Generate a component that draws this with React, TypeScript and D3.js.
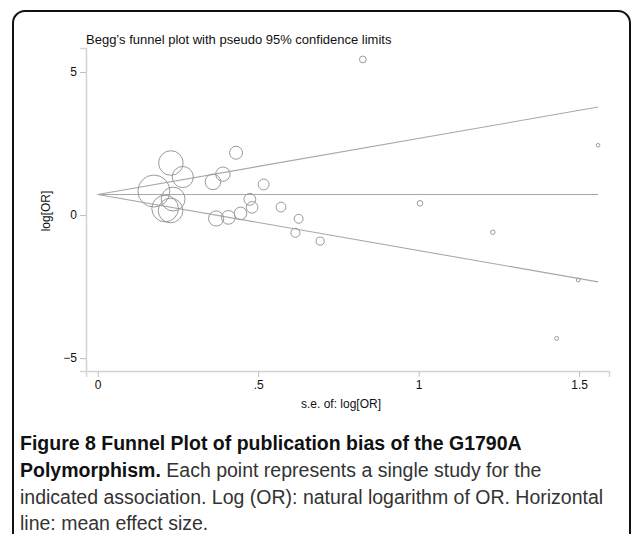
import { useEffect, useRef } from "react"
import * as d3 from "d3"

// standard error of log[OR] and log[OR] for each study
const seValues = [
  0.175, 0.228, 0.265, 0.235, 0.21, 0.227, 0.359, 0.39, 0.431, 0.517, 0.474, 0.481, 0.445,
  0.407, 0.369, 0.571, 0.626, 0.616, 0.693, 0.826, 1.004, 1.231, 1.497, 1.43, 1.559,
]
const logOrValues = [
  0.84, 1.82, 1.33, 0.56, 0.23, 0.16, 1.16, 1.43, 2.18, 1.07, 0.55, 0.27, 0.06, -0.08, -0.12,
  0.28, -0.13, -0.62, -0.91, 5.44, 0.41, -0.6, -2.27, -4.31, 2.44,
]
const pooledEstimate = 0.72
const zCrit = 1.96

const yTicks = [-5, 0, 5]
const xTicks = [0, 0.5, 1, 1.5]

const captionBold = ["Figure 8 Funnel Plot of publication bias of the G1790A", "Polymorphism."]
const captionLines = [
  " Each point represents a single study for the",
  "indicated association. Log (OR): natural logarithm of OR. Horizontal",
  "line: mean effect size.",
]

const FONT = "'Liberation Sans', Arial, sans-serif"

export default function App() {
  const svgRef = useRef(null)

  useEffect(() => {
    if (!svgRef.current) return
    const svg = d3.select(svgRef.current)
    svg.selectAll("*").remove()

    const width = 632
    const height = 534

    // frame
    svg
      .append("rect")
      .attr("x", 13)
      .attr("y", 11)
      .attr("width", 617)
      .attr("height", 600)
      .attr("rx", 12)
      .attr("fill", "none")
      .attr("stroke", "#111")
      .attr("stroke-width", 2)

    const x = d3.scaleLinear().domain([-0.0365, 1.593]).range([86, 609])
    const y = d3.scaleLinear().domain([-5.45, 5.84]).range([371, 48])

    const data = seValues.map((se, i) => ({ se, lor: logOrValues[i] }))
    const maxSe = d3.max(seValues)
    // marker radius proportional to 1/se (area ~ weight)
    const r = d3.scaleLinear().domain([0, 1 / d3.min(seValues)]).range([0, 16])

    // title
    svg
      .append("text")
      .attr("x", 86)
      .attr("y", 44)
      .attr("font-family", FONT)
      .attr("font-size", "13px")
      .attr("fill", "#111")
      .text("Begg’s funnel plot with pseudo 95% confidence limits")

    // axes
    const yAxis = svg
      .append("g")
      .attr("transform", "translate(86,0)")
      .call(d3.axisLeft(y).tickValues(yTicks).tickSizeOuter(0).tickSize(6).tickFormat((d) => (d < 0 ? "−" + Math.abs(d) : String(d))))
    const xAxis = svg
      .append("g")
      .attr("transform", "translate(0,371)")
      .call(
        d3
          .axisBottom(x)
          .tickValues(xTicks)
          .tickSizeOuter(0)
          .tickSize(6)
          .tickFormat((d) => (d === 0 ? "0" : d < 1 ? String(d).replace("0.", ".") : String(d))),
      )
    ;[yAxis, xAxis].forEach((ax) => {
      ax.select(".domain").attr("stroke", "#d4d4d4").attr("stroke-width", 1.5)
      ax.selectAll(".tick line").attr("stroke", "#bdbdbd")
      ax.selectAll(".tick text").attr("font-family", FONT).attr("font-size", "12px").attr("fill", "#111")
    })
    yAxis.selectAll(".tick text").attr("x", -9)
    xAxis.selectAll(".tick text").attr("y", 9)

    svg
      .append("text")
      .attr("transform", "translate(50,211) rotate(-90)")
      .attr("text-anchor", "middle")
      .attr("font-family", FONT)
      .attr("font-size", "12px")
      .attr("fill", "#111")
      .text("log[OR]")

    svg
      .append("text")
      .attr("x", 341)
      .attr("y", 408)
      .attr("text-anchor", "middle")
      .attr("font-family", FONT)
      .attr("font-size", "12px")
      .attr("fill", "#111")
      .text("s.e. of: log[OR]")

    // funnel lines
    const lineStyle = (sel) => sel.attr("fill", "none").attr("stroke", "#a8a8a8").attr("stroke-width", 1.1)
    const funnel = [
      (se) => pooledEstimate,
      (se) => pooledEstimate + zCrit * se,
      (se) => pooledEstimate - zCrit * se,
    ]
    funnel.forEach((f) => {
      svg
        .append("path")
        .datum([0, maxSe])
        .attr("d", d3.line().x((d) => x(d)).y((d) => y(f(d))))
        .call(lineStyle)
    })

    // study markers
    svg
      .append("g")
      .selectAll("circle")
      .data(data)
      .enter()
      .append("circle")
      .attr("cx", (d) => x(d.se))
      .attr("cy", (d) => y(d.lor))
      .attr("r", (d) => r(1 / d.se))
      .attr("fill", "none")
      .attr("stroke", "#9a9a9a")
      .attr("stroke-width", 1)

    // caption
    const cap = svg.append("g").attr("font-family", FONT).attr("font-size", "19.5px")
    const t1 = cap.append("text").attr("x", 20).attr("y", 450).attr("font-weight", "bold").attr("fill", "#111")
    t1.text(captionBold[0])
    const t2 = cap.append("text").attr("x", 20).attr("y", 477)
    t2.append("tspan").attr("font-weight", "bold").attr("fill", "#111").text(captionBold[1])
    t2.append("tspan").attr("fill", "#333").text(captionLines[0])
    cap.append("text").attr("x", 20).attr("y", 504).attr("fill", "#333").text(captionLines[1])
    cap.append("text").attr("x", 20).attr("y", 530).attr("fill", "#333").text(captionLines[2])

    svg.attr("width", width).attr("height", height).attr("viewBox", [0, 0, width, height])
  }, [])

  return (
    <div style={{ position: "absolute", left: 0, top: 0, width: 632, height: 534, background: "#fff" }}>
      <svg ref={svgRef} style={{ display: "block" }}></svg>
    </div>
  )
}
